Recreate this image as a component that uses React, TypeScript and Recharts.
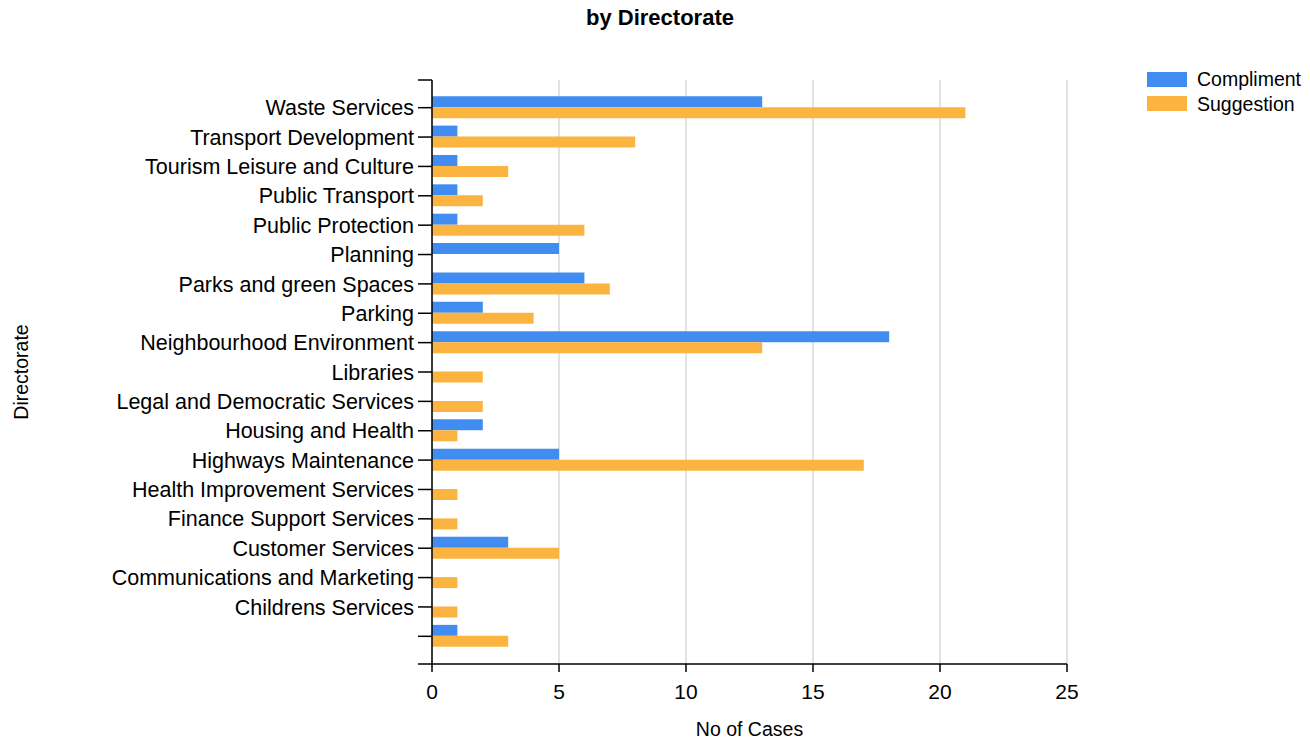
import React from "react";
import * as R from "recharts";
import {
  BarChart,
  Bar,
  XAxis,
  YAxis,
  CartesianGrid,
  Legend,
  Label,
} from "recharts";

const categories: string[] = [
  "Waste Services",
  "Transport Development",
  "Tourism Leisure and Culture",
  "Public Transport",
  "Public Protection",
  "Planning",
  "Parks and green Spaces",
  "Parking",
  "Neighbourhood Environment",
  "Libraries",
  "Legal and Democratic Services",
  "Housing and Health",
  "Highways Maintenance",
  "Health Improvement Services",
  "Finance Support Services",
  "Customer Services",
  "Communications and Marketing",
  "Childrens Services",
  "",
];

const compliment: number[] = [13, 1, 1, 1, 1, 5, 6, 2, 18, 0, 0, 2, 5, 0, 0, 3, 0, 0, 1];
const suggestion: number[] = [21, 8, 3, 2, 6, 0, 7, 4, 13, 2, 2, 1, 17, 1, 1, 5, 1, 1, 3];

const xTicks: number[] = [0, 5, 10, 15, 20, 25];

const data = categories.map((name, i) => ({
  name,
  Compliment: compliment[i],
  Suggestion: suggestion[i],
}));

const FONT = '"Liberation Sans", Arial, sans-serif';
const BLUE = "#418CF0";
const ORANGE = "#FCB441";
const TICK = 14;

const usePA: any = (R as any).usePlotArea || (() => null);

function AxisCaps() {
  const pa = usePA();
  if (!pa) return null;
  return (
    <g>
      <line x1={pa.x - TICK} x2={pa.x} y1={pa.y} y2={pa.y} stroke="#000" strokeWidth={1.5} />
      <line
        x1={pa.x - TICK}
        x2={pa.x}
        y1={pa.y + pa.height}
        y2={pa.y + pa.height}
        stroke="#000"
        strokeWidth={1.5}
      />
    </g>
  );
}

const renderLegend = (props: any) => {
  const { payload } = props;
  return (
    <div style={{ fontFamily: FONT }}>
      {(payload || []).map((entry: any) => (
        <div
          key={entry.value}
          style={{ display: "flex", alignItems: "center", height: 24.5 }}
        >
          <div
            style={{
              width: 40,
              height: 15,
              background: entry.color,
              marginRight: 10,
            }}
          />
          <span style={{ fontSize: 19.5, color: "#000", lineHeight: "20px" }}>
            {entry.value}
          </span>
        </div>
      ))}
    </div>
  );
};

export default function App() {
  return (
    <div
      style={{
        position: "absolute",
        left: 0,
        top: 0,
        width: 1310,
        height: 740,
        background: "#fff",
        fontFamily: FONT,
      }}
    >
      <div
        style={{
          position: "absolute",
          left: 0,
          top: 7,
          width: 1320,
          textAlign: "center",
          fontSize: 22,
          fontWeight: "bold",
          lineHeight: "22px",
          color: "#000",
        }}
      >
        by Directorate
      </div>
      <BarChart
        width={1310}
        height={740}
        data={data}
        layout="vertical"
        margin={{ top: 80, right: 243, left: 0, bottom: 0 }}
        barCategoryGap="11%"
        barGap={0}
        style={{ fontFamily: FONT }}
      >
        <CartesianGrid horizontal={false} vertical={true} stroke="#d9d9d9" strokeWidth={1.5} />
        <XAxis
          type="number"
          domain={[0, 25]}
          ticks={xTicks}
          interval={0}
          height={76}
          tickSize={8}
          tickMargin={12}
          axisLine={{ stroke: "#000", strokeWidth: 1.5 }}
          tickLine={{ stroke: "#000", strokeWidth: 1.5 }}
          tick={{ fill: "#000", fontSize: 21, fontFamily: FONT }}
        >
          <Label
            value="No of Cases"
            position="insideBottom"
            offset={4}
            style={{ fontSize: 19.5, fill: "#000", fontFamily: FONT }}
          />
        </XAxis>
        <YAxis
          type="category"
          dataKey="name"
          width={432}
          interval={0}
          tickSize={TICK}
          tickMargin={4}
          padding={{ top: 13, bottom: 13 }}
          axisLine={{ stroke: "#000", strokeWidth: 1.5 }}
          tickLine={{ stroke: "#000", strokeWidth: 1.5 }}
          tick={{ fill: "#000", fontSize: 21.5, fontFamily: FONT }}
        >
          <Label
            value="Directorate"
            angle={-90}
            position="insideLeft"
            offset={21.5}
            style={{ fontSize: 19.5, fill: "#000", fontFamily: FONT, textAnchor: "middle" }}
          />
        </YAxis>
        <Legend
          layout="vertical"
          align="center"
          verticalAlign="middle"
          content={renderLegend}
          wrapperStyle={{ left: 1147, top: 67, width: 163 }}
        />
        <Bar dataKey="Compliment" fill={BLUE} isAnimationActive={false} />
        <Bar dataKey="Suggestion" fill={ORANGE} isAnimationActive={false} />
        <AxisCaps />
      </BarChart>
    </div>
  );
}
